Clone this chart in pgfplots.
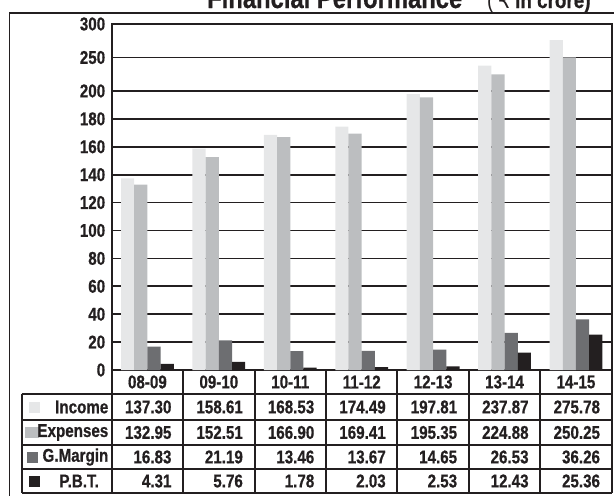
\documentclass[border=0pt]{standalone}
\usepackage{fontspec}
\setmainfont[FakeStretch=0.82, BoldFeatures={FakeBold=0.6}]{Liberation Sans}
\newfontfamily\dejavu{DejaVu Sans}
\usepackage{pgfplots}
\pgfplotsset{compat=1.18}
\usepackage{pgfplotstable}

\definecolor{cInc}{HTML}{E6E7E8}
\definecolor{cExp}{HTML}{BCBEC0}
\definecolor{cGm}{HTML}{6D6E71}
\definecolor{cPbt}{HTML}{231F20}
\definecolor{ink}{HTML}{231F20}

% Rs. crore, by financial year
\pgfplotstableread{
x cat income expenses gmargin pbt
0 08-09 137.30 132.95 16.83 4.31
1 09-10 158.61 152.51 21.19 5.76
2 10-11 168.53 166.90 13.46 1.78
3 11-12 174.49 169.41 13.67 2.03
4 12-13 197.81 195.35 14.65 2.53
5 13-14 237.87 224.88 26.53 12.43
6 14-15 275.78 250.25 36.26 25.36
}\finperf

\newcommand\cellfont{\fontsize{18.5}{19}\selectfont\bfseries}

\begin{document}
\begin{tikzpicture}[x=1pt,y=1pt]
\begin{axis}[
  at={(111.7pt,-370pt)}, anchor=south west,
  scale only axis, width=500pt, height=346pt,
  ybar=0pt, bar width=13.2pt,
  xmin=-0.5, xmax=6.5,
  ymin=0, ymax=300,
  % axis is stretched below 200 and squeezed above it
  y coord trafo/.code={\pgfmathparse{ifthenelse(#1>200,200+(#1-200)*0.48,#1)}},
  xtick=\empty,
  ytick={0,20,40,60,80,100,120,140,160,180,200,250,300},
  yticklabels={0,20,40,60,80,100,120,140,160,180,200,250,300},
  ymajorgrids,
  grid style={ink, line width=1.7pt},
  axis line style={ink, line width=1.9pt},
  major tick length=0pt,
  yticklabel style={font=\cellfont, text=ink, xshift=-3pt},
  every axis plot/.append style={draw=none},
]
\addplot[fill=cInc] table[x=x,y=income]{\finperf};
\addplot[fill=cExp] table[x=x,y=expenses]{\finperf};
\addplot[fill=cGm] table[x=x,y=gmargin]{\finperf};
\addplot[fill=cPbt] table[x=x,y=pbt]{\finperf};
\end{axis}

% title (partly cut off by the page edge, as in the source)
\node[anchor=base west, inner sep=0pt, text=ink] at (207,-8)
  {\fontsize{29}{30}\selectfont\bfseries Financial Performance};
\node[anchor=base west, inner sep=0pt, text=ink] at (487,-8)
  {\fontsize{24}{25}\selectfont(\,{\dejavu\fontsize{21}{22}\selectfont ₹}\,\fontsize{23}{24}\selectfont\bfseries in crore)};

% outer frame
\draw[ink, line width=1.2pt] (9.3,-520) -- (9.3,-13) -- (630,-13);

% data table
\begin{scope}[ink, line width=1.9pt]
  \foreach \r in {394,420,445,469,493}
    \draw (21.7,-\r) -- (611.7,-\r);
  \draw (21.7,-394) -- (21.7,-493);
  \foreach \i in {0,...,7}
    \draw (111.7+71.43*\i,-370) -- (111.7+71.43*\i,-493);
  \draw (611.7,-24) -- (611.7,-370);
\end{scope}

\foreach \i in {0,...,6} {
  \pgfmathsetmacro\cc{111.7+71.43*\i+35.7}
  \pgfmathsetmacro\cr{111.7+71.43*(\i+1)-11.5}
  \pgfplotstablegetelem{\i}{cat}\of\finperf
  \node[font=\cellfont, text=ink, inner sep=0pt] at (\cc,-382) {\pgfplotsretval};
  \pgfplotstablegetelem{\i}{income}\of\finperf
  \node[font=\cellfont, text=ink, inner sep=0pt, anchor=east] at (\cr,-407) {\pgfplotsretval};
  \pgfplotstablegetelem{\i}{expenses}\of\finperf
  \node[font=\cellfont, text=ink, inner sep=0pt, anchor=east] at (\cr,-432.5) {\pgfplotsretval};
  \pgfplotstablegetelem{\i}{gmargin}\of\finperf
  \node[font=\cellfont, text=ink, inner sep=0pt, anchor=east] at (\cr,-457) {\pgfplotsretval};
  \pgfplotstablegetelem{\i}{pbt}\of\finperf
  \node[font=\cellfont, text=ink, inner sep=0pt, anchor=east] at (\cr,-481) {\pgfplotsretval};
}

% row labels with swatches
\fill[cInc] (28.5,-402) rectangle (40,-413);
\fill[cExp] (25,-427) rectangle (39,-438);
\fill[cGm]  (27,-451.5) rectangle (38,-462.5);
\fill[cPbt] (28.5,-475.5) rectangle (40,-486.5);
\node[font=\cellfont, text=ink, inner sep=0pt, anchor=east] at (108.5,-407) {Income};
\node[font=\cellfont, text=ink, inner sep=0pt, anchor=east] at (108.5,-432.5) {Expenses};
\node[font=\cellfont, text=ink, inner sep=0pt, anchor=east] at (108.5,-457) {G.Margin};
\node[font=\cellfont, text=ink, inner sep=0pt, anchor=east] at (99,-481) {P.B.T.};

\pgfresetboundingbox
\useasboundingbox (0,0) rectangle (614,-496);
\end{tikzpicture}
\end{document}
